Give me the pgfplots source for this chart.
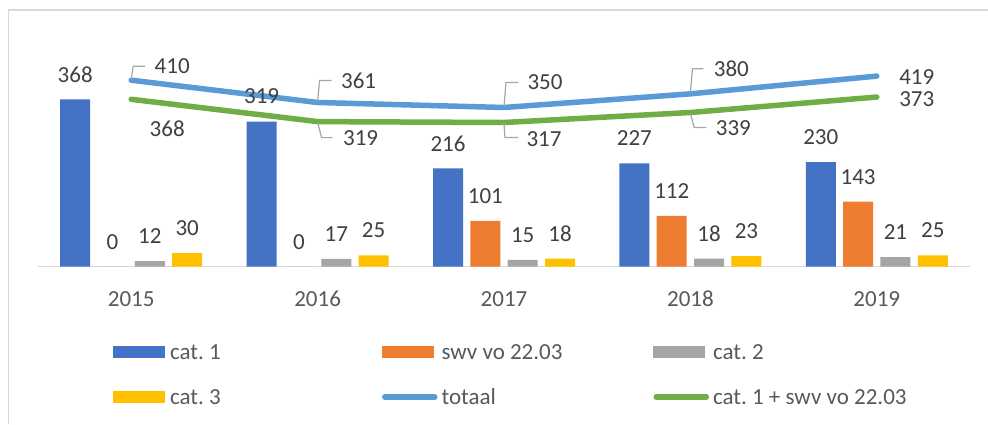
\documentclass[border=0pt]{standalone}
\usepackage{fontspec}
\setmainfont{Carlito}
\usepackage{graphicx}
\usepackage{pgfplots}
\pgfplotsset{compat=1.18}
\usepackage{pgfplotstable}
\definecolor{cA}{HTML}{4472C4}
\definecolor{cB}{HTML}{ED7D31}
\definecolor{cC}{HTML}{A5A5A5}
\definecolor{cD}{HTML}{FFC000}
\definecolor{lA}{HTML}{5B9BD5}
\definecolor{lB}{HTML}{70AD47}
\definecolor{labgray}{HTML}{404040}
\definecolor{tickgray}{HTML}{595959}
\definecolor{basegray}{HTML}{D9D9D9}
\definecolor{leadgray}{HTML}{A6A6A6}
\pgfplotstableread{
x cat1 swv cat2 cat3
0 368 0 12 30
1 319 0 17 25
2 216 101 15 18
3 227 112 18 23
4 230 143 21 25
}\bars
\pgfplotstableread{
x y dx dy
0 410 41 14
1 361 41 22
2 350 41 25
3 380 41 25
4 419 40 -1
}\totaal
\pgfplotstableread{
x y dx dy
0 368 36 -29
1 319 43 -17
2 317 40 -17
3 339 43 -16
4 373 40 -2
}\groen
\newcommand{\lbl}{\fontsize{23}{27}\selectfont}
\frenchspacing
\begin{document}
\frenchspacing
\begin{tikzpicture}
\useasboundingbox (0pt,0pt) rectangle (988pt,424pt);
\fill[white] (0pt,0pt) rectangle (988pt,424pt);
\draw[basegray, line width=1.6pt] (8.5pt,0pt) -- (8.5pt,414pt) -- (988pt,414pt);
\begin{axis}[
  at={(38pt,157.3pt)}, anchor=south west,
  scale only axis, width=932pt, height=204.7pt,
  xmin=-0.5, xmax=4.5, ymin=0, ymax=450,
  clip=false,
  axis y line=none, axis x line*=bottom,
  x axis line style={draw=basegray, line width=1.5pt, -},
  xtick={0,1,2,3,4},
  xticklabels={2015,2016,2017,2018,2019},
  major tick length=0pt,
  xtick style={draw=none},
  ytick=\empty,
  xticklabel style={anchor=center, yshift=-32pt, font=\lbl, text=tickgray},
  /pgf/number format/assume math mode=true,
  legend columns=3,
  legend cell align=left,
  legend style={at={(0.0805,-0.3654)}, anchor=north west, draw=none, fill=none,
    inner sep=0pt, outer sep=0pt, column sep=0pt, row sep=24pt,
    nodes={inner sep=0pt, text height=18pt, text depth=3pt, font=\lbl, text=tickgray}},
]
\addplot[ybar, bar width=30pt, bar shift=-56pt, fill=cA, draw=none,
  nodes near coords,
  every node near coord/.append style={anchor=center, xshift=-56pt, yshift=25pt, font=\lbl, text=labgray},
  legend image code/.code={\fill[cA] (0pt,-6pt) rectangle (52pt,6pt); \path (57pt,0pt);}]
  table[x=x, y=cat1]{\bars};
\addlegendentry{\makebox[209pt][l]{cat. 1}}
\addplot[ybar, bar width=30pt, bar shift=-18.67pt, fill=cB, draw=none,
  nodes near coords,
  every node near coord/.append style={anchor=center, xshift=-18.67pt, yshift=25pt, font=\lbl, text=labgray},
  legend image code/.code={\fill[cB] (0pt,-6pt) rectangle (52pt,6pt); \path (57pt,0pt);}]
  table[x=x, y=swv]{\bars};
\addlegendentry{\makebox[209pt][l]{swv vo 22.03}}
\addplot[ybar, bar width=30pt, bar shift=18.67pt, fill=cC, draw=none,
  nodes near coords,
  every node near coord/.append style={anchor=center, xshift=18.67pt, yshift=25pt, font=\lbl, text=labgray},
  legend image code/.code={\fill[cC] (0pt,-6pt) rectangle (52pt,6pt); \path (57pt,0pt);}]
  table[x=x, y=cat2]{\bars};
\addlegendentry{\makebox[209pt][l]{cat. 2}}
\addplot[ybar, bar width=30pt, bar shift=56pt, fill=cD, draw=none,
  nodes near coords,
  every node near coord/.append style={anchor=center, xshift=56pt, yshift=25pt, font=\lbl, text=labgray},
  legend image code/.code={\fill[cD] (0pt,-6pt) rectangle (52pt,6pt); \path (57pt,0pt);}]
  table[x=x, y=cat3]{\bars};
\addlegendentry{\makebox[209pt][l]{cat. 3}}
\addplot[sharp plot, lA, line width=5.5pt, line cap=round, line join=round, mark=none,
  nodes near coords,
  visualization depends on={\thisrow{dx} \as \mydx},
  visualization depends on={\thisrow{dy} \as \mydy},
  every node near coord/.append style={anchor=center, xshift=\mydx pt, yshift=\mydy pt, font=\lbl, text=labgray},
  legend image code/.code={\draw[lA, line width=5.5pt, line cap=round] (3pt,0pt) -- (53pt,0pt); \path (0pt,0pt) (57pt,0pt);}]
  table[x=x, y=y]{\totaal};
\addlegendentry{\makebox[209pt][l]{totaal}}
\addplot[sharp plot, lB, line width=5.5pt, line cap=round, line join=round, mark=none,
  nodes near coords,
  visualization depends on={\thisrow{dx} \as \mydx},
  visualization depends on={\thisrow{dy} \as \mydy},
  every node near coord/.append style={anchor=center, xshift=\mydx pt, yshift=\mydy pt, font=\lbl, text=labgray},
  legend image code/.code={\draw[lB, line width=5.5pt, line cap=round] (3pt,0pt) -- (53pt,0pt); \path (0pt,0pt) (57pt,0pt);}]
  table[x=x, y=y]{\groen};
\addlegendentry{\makebox[209pt][l]{cat. 1 + swv vo 22.03}}
% leader lines
\addplot[leadgray, line width=1.2pt, forget plot] coordinates {(0,412) (0.0107,440.8) (0.0751,440.8)};
\addplot[leadgray, line width=1.2pt, forget plot] coordinates {(1,363) (1.0107,409.4) (1.0751,409.4)};
\addplot[leadgray, line width=1.2pt, forget plot] coordinates {(2,352) (2.0107,405) (2.0751,405)};
\addplot[leadgray, line width=1.2pt, forget plot] coordinates {(3,382) (3.0107,435) (3.0700,435)};
\addplot[leadgray, line width=1.2pt, forget plot] coordinates {(1,317) (1.0215,283.8) (1.0800,283.8)};
\addplot[leadgray, line width=1.2pt, forget plot] coordinates {(2,315) (2.0050,284) (2.0750,284)};
\addplot[leadgray, line width=1.2pt, forget plot] coordinates {(3,337) (3.0200,306) (3.0850,306)};
\end{axis}
\end{tikzpicture}
\end{document}
